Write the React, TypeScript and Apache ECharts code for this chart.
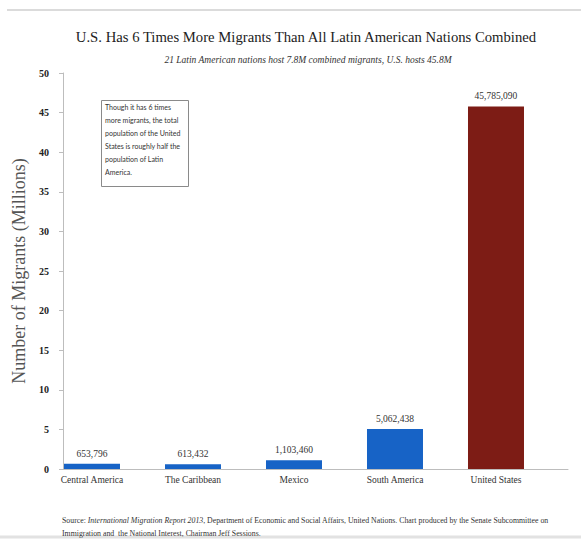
import React, { useEffect, useRef } from "react";
import * as echarts from "echarts";

const categories = ["Central America", "The Caribbean", "Mexico", "South America", "United States"];
const migrants = [653796, 613432, 1103460, 5062438, 45785090];
const highlightCategory = "United States";
const yMin = 0;
const yMax = 50;
const yInterval = 5;

const titleText = "U.S. Has 6 Times More Migrants Than All Latin American Nations Combined";
const subtitleText = "21 Latin American nations host 7.8M combined migrants, U.S. hosts 45.8M";
const yAxisName = "Number of Migrants (Millions)";
const noteLines = [
  "Though it has 6 times",
  "more migrants, the total",
  "population of the United",
  "States is roughly half the",
  "population of Latin",
  "America.",
];
const sourceLine1 =
  "Source: {it|International Migration Report 2013}, Department of Economic and Social Affairs, United Nations. Chart produced by the Senate Subcommittee on";
const sourceLine2 = "Immigration and  the National Interest, Chairman Jeff Sessions.";

export default function App() {
  const ref = useRef<HTMLDivElement>(null);
  useEffect(() => {
    const chart = echarts.init(ref.current!, null, { renderer: "svg" });
    const serif = "Liberation Serif";
    const sans = "Lato";
    chart.setOption({
      animation: false,
      backgroundColor: "#ffffff",
      textStyle: { fontFamily: serif },
      grid: { left: 63, right: 13, top: 73, bottom: 71 },
      xAxis: {
        type: "category",
        data: categories,
        boundaryGap: true,
        axisLine: { lineStyle: { color: "#bdbdbd", width: 1 } },
        axisTick: { show: false },
        axisLabel: {
          fontFamily: serif,
          fontSize: 9.5,
          color: "#333",
          margin: 6,
          padding: [0, 43, 0, 0],
        },
      },
      yAxis: {
        type: "value",
        min: yMin,
        max: yMax,
        interval: yInterval,
        name: yAxisName,
        nameLocation: "middle",
        nameGap: 22,
        nameTextStyle: { fontFamily: serif, fontSize: 18, color: "#555" },
        axisLine: { show: true, lineStyle: { color: "#bdbdbd", width: 1 } },
        axisTick: { show: true, length: 4, lineStyle: { color: "#bdbdbd" } },
        splitLine: { show: false },
        axisLabel: { fontFamily: serif, fontSize: 10, fontWeight: "bold", color: "#222", margin: 14 },
      },
      series: [
        {
          type: "bar",
          barWidth: 56,
          barGap: "-23.2%",
          data: migrants.map((v, i) => ({
            value: v / 1e6,
            itemStyle: { color: categories[i] === highlightCategory ? "#7d1c15" : "#1763c6" },
          })),
          label: {
            show: true,
            position: "top",
            distance: 5,
            fontFamily: serif,
            fontSize: 9.5,
            color: "#333",
            formatter: (p: any) => migrants[p.dataIndex].toLocaleString("en-US"),
          },
        },
        {
          type: "bar",
          barWidth: 56,
          silent: true,
          data: categories.map(() => null),
        },
      ],
      graphic: [
        { type: "line", shape: { x1: 7, y1: 10, x2: 581, y2: 10 }, style: { stroke: "#cfcfcf", lineWidth: 1.5 } },
        { type: "line", shape: { x1: 0, y1: 537, x2: 581, y2: 537 }, style: { stroke: "#e2e2e2", lineWidth: 3 } },
        {
          type: "text",
          x: 306,
          y: 37,
          style: {
            text: titleText,
            fontFamily: serif,
            fontSize: 14.7,
            fill: "#222",
            textAlign: "center",
            textVerticalAlign: "middle",
          },
        },
        {
          type: "text",
          x: 308,
          y: 60,
          style: {
            text: subtitleText,
            fontFamily: serif,
            fontStyle: "italic",
            fontSize: 9.5,
            fill: "#333",
            textAlign: "center",
            textVerticalAlign: "middle",
          },
        },
        {
          type: "rect",
          shape: { x: 101.5, y: 100.5, width: 87, height: 86 },
          style: { fill: "#fff", stroke: "#8a8a8a", lineWidth: 1 },
        },
        {
          type: "text",
          x: 105,
          y: 100,
          style: {
            text: noteLines.join("\n"),
            fontFamily: sans,
            fontSize: 7,
            lineHeight: 13,
            fill: "#333",
            textAlign: "left",
            textVerticalAlign: "top",
          },
        },
        {
          type: "text",
          x: 62,
          y: 520,
          style: {
            text: sourceLine1,
            fontFamily: serif,
            fontSize: 7.8,
            fill: "#333",
            textAlign: "left",
            textVerticalAlign: "middle",
            rich: { it: { fontFamily: serif, fontSize: 7.8, fontStyle: "italic", fill: "#333" } },
          },
        },
        {
          type: "text",
          x: 62,
          y: 533,
          style: {
            text: sourceLine2,
            fontFamily: serif,
            fontSize: 7.8,
            fill: "#333",
            textAlign: "left",
            textVerticalAlign: "middle",
          },
        },
      ],
    });
    return () => chart.dispose();
  }, []);
  return <div ref={ref} style={{ position: "fixed", left: 0, top: 0, width: 581, height: 540 }} />;
}
